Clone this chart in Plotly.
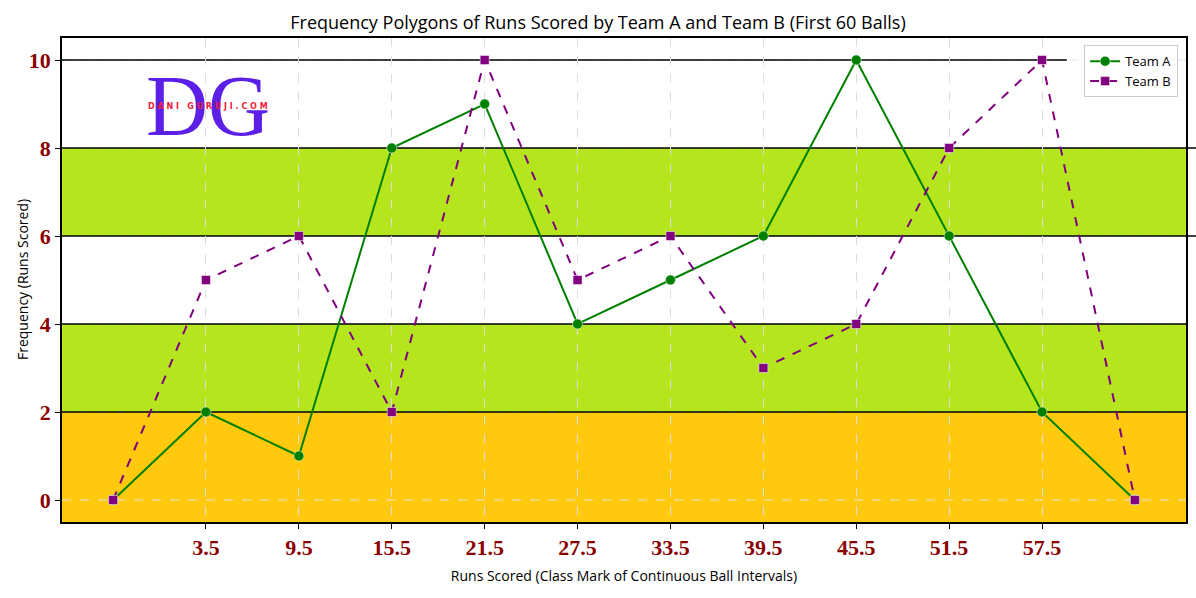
import plotly.graph_objects as go

class_marks = [-2.5, 3.5, 9.5, 15.5, 21.5, 27.5, 33.5, 39.5, 45.5, 51.5, 57.5, 63.5]
team_a = [0, 2, 1, 8, 9, 4, 5, 6, 10, 6, 2, 0]
team_b = [0, 5, 6, 2, 10, 5, 6, 3, 4, 8, 10, 0]
x_ticks = [3.5, 9.5, 15.5, 21.5, 27.5, 33.5, 39.5, 45.5, 51.5, 57.5]
x_tick_labels = ["3.5", "9.5", "15.5", "21.5", "27.5", "33.5", "39.5", "45.5", "51.5", "57.5"]
y_ticks = [0, 2, 4, 6, 8, 10]
# background bands: (low, high, colour)
band_lows = [-0.5, 2, 6]
band_highs = [2, 4, 8]
band_colors = ["#FFC90E", "#B5E61D", "#B5E61D"]
rule_levels = [2, 4, 6, 8, 10]

x_range = [-5.8, 66.8]
y_range = [-0.5, 10.5]

fig = go.Figure()
fig.add_trace(go.Scatter(
    x=class_marks, y=team_a, mode="lines+markers", name="Team A",
    line=dict(color="#008000", width=2),
    marker=dict(symbol="circle", size=10, color="#008000", line=dict(color="white", width=0.5)),
))
fig.add_trace(go.Scatter(
    x=class_marks, y=team_b, mode="lines+markers", name="Team B",
    line=dict(color="#800080", width=2, dash="dash"),
    marker=dict(symbol="square", size=9, color="#800080", line=dict(color="white", width=0.5)),
))

shapes = []
for lo, hi, c in zip(band_lows, band_highs, band_colors):
    shapes.append(dict(type="rect", xref="x domain", yref="y", x0=0, x1=1, y0=lo, y1=hi,
                       fillcolor=c, line=dict(width=0), layer="below"))
# horizontal dashed grid drawn over the bands
for yt in y_ticks:
    shapes.append(dict(type="line", xref="x domain", yref="y", x0=0, x1=1, y0=yt, y1=yt,
                       line=dict(color="#e2e2e2", width=1, dash="dash"), layer="below"))
rule_ends = {2: 1.0, 4: 1.0, 6: 1.009, 8: 1.009, 10: 0.894}
for lvl in rule_levels:
    shapes.append(dict(type="line", xref="paper", yref="y", x0=0, x1=rule_ends[lvl], y0=lvl, y1=lvl,
                       line=dict(color="black", width=1.5), layer="between"))
fig.update_layout(shapes=shapes)

# logo
fig.add_annotation(x=3.6, y=8.95, xref="x", yref="y", xanchor="center", yanchor="middle",
                   text="DG", showarrow=False,
                   font=dict(family="Liberation Serif", size=86, color="#5B1FE6"))
fig.add_annotation(x=3.6, y=8.95, xref="x", yref="y", xanchor="center", yanchor="middle",
                   text="D A N I   G U R U J I . C O M", showarrow=False,
                   font=dict(family="DejaVu Sans", size=8, color="#F0203A", weight="bold"))

# y-axis title
fig.add_annotation(x=0, y=0.5, xref="paper", yref="paper", xanchor="center", yanchor="middle",
                   xshift=-40, textangle=-90, text="Frequency (Runs Scored)", showarrow=False,
                   font=dict(family="Open Sans", size=14, color="black"))

tick_font = dict(family="Liberation Serif", size=22, color="#8B0000", weight="bold")
fig.update_xaxes(range=x_range, tickvals=x_ticks, ticktext=x_tick_labels, automargin=False,
                 tickfont=tick_font, showgrid=True, gridcolor="#dcdcdc", griddash="dash", gridwidth=1,
                 showline=True, linecolor="black", linewidth=1.5, mirror=True,
                 ticks="outside", ticklen=5, tickcolor="black", zeroline=False,
                 title=dict(text="Runs Scored (Class Mark of Continuous Ball Intervals)",
                            font=dict(family="Open Sans", size=14, color="black"), standoff=12))
fig.update_yaxes(range=y_range, tickvals=y_ticks, tickfont=tick_font, automargin=False,
                 showgrid=False,
                 showline=True, linecolor="black", linewidth=1.5, mirror=True,
                 ticks="outside", ticklen=5, tickcolor="black", zeroline=False)

fig.update_layout(
    width=1196, height=598,
    margin=dict(l=62, r=10, t=38, b=76, autoexpand=False),
    paper_bgcolor="white", plot_bgcolor="white",
    title=dict(text="Frequency Polygons of Runs Scored by Team A and Team B (First 60 Balls)",
               x=0.5, xanchor="center", y=0.962, yanchor="middle",
               font=dict(family="Open Sans", size=18, color="black")),
    legend=dict(x=0.993, y=0.985, xanchor="right", yanchor="top",
                bgcolor="rgba(255,255,255,0.9)", bordercolor="#cccccc", borderwidth=1,
                font=dict(family="Open Sans", size=13, color="black")),
    showlegend=True,
)

fig.write_html("out.html", config={"displayModeBar": False},
               post_script="document.body.style.margin='0';document.body.style.overflow='hidden';")
